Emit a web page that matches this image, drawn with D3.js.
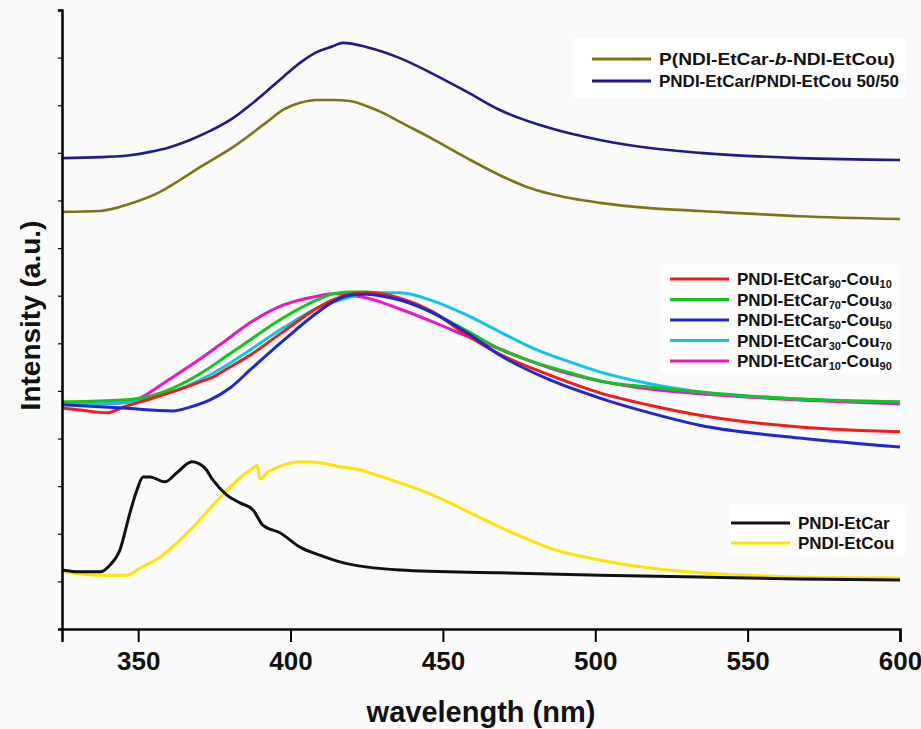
<!DOCTYPE html>
<html>
<head>
<meta charset="utf-8">
<script src="https://cdn.jsdelivr.net/npm/d3@7"></script>
<style>
  body { margin: 0; background: #fafafa; }
  svg { display: block; font-family: "Liberation Sans", Arial, sans-serif; }
</style>
</head>
<body>
<svg id="chart" width="921" height="729"></svg>
<script>
// wavelength (nm) / intensity (a.u., offset stacked)
const etCar = [[325,124],[330.9,120],[337.5,120],[340.7,134],[344,166],[347.3,244],[349.6,292],[351.6,319],[353.9,319],[358.8,309],[362.7,328],[367.6,351],[371.9,338],[374.5,313],[379.1,281],[383.4,265],[387.7,250],[390.9,218],[396.5,202],[403.1,172],[409.6,155],[416.2,141],[435.9,124],[468.7,118],[501.5,113],[534.3,109],[567.1,105],[600,103]];
const etCou = [[325,120],[337.5,113],[346.3,113],[350.6,128],[357.2,151],[363.7,187],[369.3,223],[374.5,260],[380.1,298],[384.4,323],[387.7,338],[389,344],[390,315],[392.3,328],[396.5,342],[404.1,351],[409.6,349],[415.2,342],[422.8,334],[429.3,321],[435.9,307],[444.1,288],[452.3,265],[460.5,239],[468.7,214],[476.9,191],[485.1,170],[501.5,145],[517.9,128],[534.3,118],[550.7,113],[567.1,109],[600,107]];

const car90 = [[325,464],[330.9,460],[339.8,454],[345,466],[353.9,483],[362.1,500],[370.3,519],[374.5,529],[378.5,544],[386.7,575],[397.5,624],[408.7,674],[413.9,691],[419.5,703],[425.1,706],[435.9,695],[446.7,666],[457.9,617],[468.7,577],[485.1,533],[501.5,496],[517.9,470],[534.3,449],[567.1,424],[600,414]];
const car70 = [[325,477],[345,481],[353.9,489],[362.1,508],[370.3,536],[378.5,571],[386.7,607],[397.5,653],[408.7,691],[413.9,704],[419.5,708],[425.1,708],[430.3,704],[435.9,693],[446.7,664],[457.9,626],[468.7,588],[479.5,561],[490.7,540],[501.5,521],[517.9,508],[534.3,498],[567.1,483],[600,477]];
const car50 = [[325,471],[345,464],[361.4,458],[367,466],[373.6,481],[380.1,506],[386.7,544],[397.5,605],[408.7,664],[413.9,687],[419.5,701],[425.1,703],[430.3,699],[435.9,691],[446.7,664],[457.9,622],[468.7,575],[485.1,523],[501.5,485],[517.9,454],[534.3,428],[567.1,401],[600,382]];
const car30 = [[325,473],[345,475],[357.2,491],[363.7,504],[370.3,523],[378.5,552],[386.7,586],[397.5,632],[408.7,674],[419.5,697],[425.1,706],[435.9,706],[446.7,689],[457.9,659],[468.7,624],[479.5,590],[490.7,563],[501.5,540],[517.9,515],[534.3,498],[567.1,483],[600,477]];
const car10 = [[325,473],[337.5,473],[345,475],[350.6,485],[359.4,521],[370.3,567],[378.5,605],[386.7,643],[397.5,680],[408.7,699],[413.9,704],[419.5,701],[425.1,695],[430.3,685],[435.9,672],[446.7,645],[457.9,615],[468.7,588],[479.5,561],[485.1,548],[501.5,521],[517.9,504],[534.3,494],[567.1,481],[600,473]];

const blend = [[325,989],[337.5,991],[347.3,995],[353.9,1002],[360.4,1012],[367,1027],[373.6,1046],[381.1,1073],[386.7,1100],[392.3,1130],[397.5,1159],[403.1,1189],[408.7,1212],[413.9,1224],[417.2,1231],[425.1,1222],[435.9,1199],[446.7,1166],[457.9,1128],[468.7,1090],[485.1,1052],[501.5,1027],[517.9,1010],[534.3,1000],[567.1,989],[600,985]];
const block = [[325,876],[337.5,878],[347.3,893],[357.2,918],[363.7,943],[370.3,970],[381.1,1012],[392.3,1065],[397.5,1090],[403.1,1105],[408.7,1111],[413.9,1111],[419.5,1109],[425.1,1098],[430.3,1084],[435.9,1065],[446.7,1029],[457.9,989],[468.7,953],[476.9,930],[485.1,914],[501.5,895],[517.9,884],[534.3,878],[567.1,867],[600,861]];

const xTicks = [350, 400, 450, 500, 550, 600];

const series = [
  { data: blend, color: '#1c1c82', w: 2.6 },
  { data: block, color: '#7d7414', w: 2.6 },
  { data: car10, color: '#ee14c8', w: 3 },
  { data: car30, color: '#10c4e8', w: 3 },
  { data: car70, color: '#14c41e', w: 3 },
  { data: car90, color: '#f41a1a', w: 3 },
  { data: car50, color: '#1e28d2', w: 3 },
  { data: etCou, color: '#ffe400', w: 3 },
  { data: etCar, color: '#111111', w: 3 }
];

const legends = [
  { box: [572, 38, 333, 60], x: 592, y: 59, gap: 22, items: [
    { color: '#7d7414', len: 236, parts: [['P(NDI-EtCar-'], ['b', 'i'], ['-NDI-EtCou)']] },
    { color: '#1c1c82', parts: [['PNDI-EtCar/PNDI-EtCou 50/50']] }
  ]},
  { box: [660, 265, 240, 108], x: 670, y: 279, gap: 20.5, items: [
    { color: '#f41a1a', parts: [['PNDI-EtCar'], ['90', 's'], ['-Cou'], ['10', 's']] },
    { color: '#14c41e', parts: [['PNDI-EtCar'], ['70', 's'], ['-Cou'], ['30', 's']] },
    { color: '#1e28d2', parts: [['PNDI-EtCar'], ['50', 's'], ['-Cou'], ['50', 's']] },
    { color: '#10c4e8', parts: [['PNDI-EtCar'], ['30', 's'], ['-Cou'], ['70', 's']] },
    { color: '#ee14c8', parts: [['PNDI-EtCar'], ['10', 's'], ['-Cou'], ['90', 's']] }
  ]},
  { box: [730, 505, 175, 50], x: 731, y: 523, gap: 20, items: [
    { color: '#111111', parts: [['PNDI-EtCar']] },
    { color: '#ffe400', parts: [['PNDI-EtCou']] }
  ]}
];

const svg = d3.select('#chart');
const margin = { left: 62, right: 21, top: 10, bottom: 100 };
const width = 921, height = 729;

const x = d3.scaleLinear().domain([325, 600]).range([margin.left, width - margin.right]);
const y = d3.scaleLinear().domain([0, 1300]).range([height - margin.bottom, margin.top]);

// legend boxes behind everything
legends.forEach(l => {
  svg.append('rect')
    .attr('x', l.box[0]).attr('y', l.box[1])
    .attr('width', l.box[2]).attr('height', l.box[3])
    .attr('fill', '#ffffff');
});

const line = d3.line()
  .x(d => x(d[0]))
  .y(d => y(d[1]))
  .curve(d3.curveMonotoneX);

svg.append('g')
  .selectAll('path')
  .data(series)
  .join('path')
  .attr('d', d => line(d.data))
  .attr('fill', 'none')
  .attr('stroke', d => d.color)
  .attr('stroke-width', d => d.w)
  .attr('stroke-linejoin', 'round');

// x axis: major + minor ticks pointing down
const xAxis = svg.append('g').attr('transform', `translate(0,${y(0)})`);
xAxis.call(d3.axisBottom(x).tickValues(d3.range(325, 601, 25)).tickSize(7).tickFormat(''))
  .call(g => g.select('.domain').remove());
xAxis.call(d3.axisBottom(x).tickValues(xTicks).tickSize(13).tickPadding(10).tickFormat(d3.format('d')))
  .call(g => g.select('.domain').attr('stroke-width', 2.5));
xAxis.selectAll('line').attr('stroke-width', 2);
xAxis.selectAll('text')
  .attr('font-size', 26)
  .attr('font-weight', 'bold')
  .attr('fill', '#111');

// y axis: small ticks only, no labels
const yAxis = svg.append('g').attr('transform', `translate(${margin.left},0)`);
yAxis.call(d3.axisLeft(y).tickValues(d3.range(100, 1301, 100)).tickSize(4).tickFormat(''))
  .call(g => g.select('.domain').attr('stroke-width', 2.5));
yAxis.selectAll('line').attr('stroke-width', 1.2);

svg.append('text')
  .attr('x', (x(325) + x(600)) / 2)
  .attr('y', 722)
  .attr('text-anchor', 'middle')
  .attr('font-size', 29)
  .attr('font-weight', 'bold')
  .attr('fill', '#111')
  .text('wavelength (nm)');

svg.append('text')
  .attr('transform', `translate(40,${(y(0) + y(1300)) / 2 - 4}) rotate(-90)`)
  .attr('text-anchor', 'middle')
  .attr('font-size', 28)
  .attr('font-weight', 'bold')
  .attr('fill', '#111')
  .text('Intensity (a.u.)');

// legends
legends.forEach(l => {
  const g = svg.append('g');
  l.items.forEach((it, i) => {
    const yy = l.y + i * l.gap;
    g.append('line')
      .attr('x1', l.x).attr('x2', l.x + 59)
      .attr('y1', yy).attr('y2', yy)
      .attr('stroke', it.color).attr('stroke-width', 3);
    const t = g.append('text')
      .attr('x', l.x + 67).attr('y', yy + 6)
      .attr('font-size', 17).attr('font-weight', 'bold').attr('fill', '#111');
    if (it.len) t.attr('textLength', it.len).attr('lengthAdjust', 'spacingAndGlyphs');
    it.parts.forEach(p => {
      const ts = t.append('tspan').text(p[0]);
      if (p[1] === 'i') ts.attr('font-style', 'italic');
      if (p[1] === 's') ts.attr('font-size', 11).attr('baseline-shift', '-25%');
    });
  });
});
</script>
</body>
</html>
